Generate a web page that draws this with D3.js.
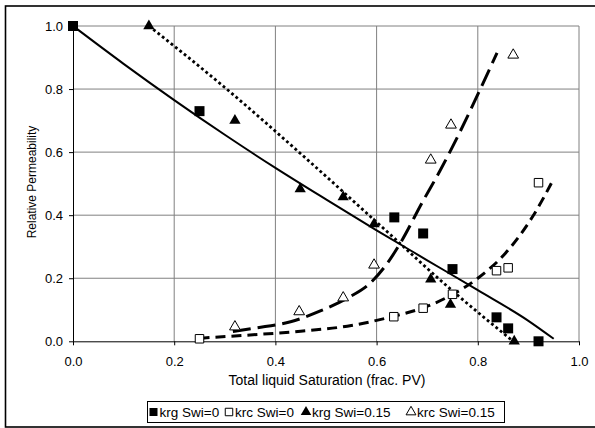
<!DOCTYPE html>
<html><head><meta charset="utf-8">
<script src="https://cdn.jsdelivr.net/npm/d3@7"></script>
<style>
html,body{margin:0;padding:0;background:#fff;}
text{font-family:"Liberation Sans",Arial,sans-serif;fill:#000;}
</style></head>
<body>
<svg id="chart" width="595" height="428"></svg>
<script>
// ---- data ----
const xTicks = [0.0, 0.2, 0.4, 0.6, 0.8, 1.0];
const yTicks = [0.0, 0.2, 0.4, 0.6, 0.8, 1.0];
const xTickLabels = ["0.0", "0.2", "0.4", "0.6", "0.8", "1.0"];
const yTickLabels = ["0.0", "0.2", "0.4", "0.6", "0.8", "1.0"];
const xTitle = "Total liquid Saturation (frac. PV)";
const yTitle = "Relative Permeability";
const seriesNames = ["krg Swi=0", "krc Swi=0", "krg Swi=0.15", "krc Swi=0.15"];

// measured points
const krgSwi0X  = [0.0, 0.25, 0.635, 0.692, 0.75, 0.837, 0.86, 0.92];
const krgSwi0Y  = [1.0, 0.73, 0.393, 0.342, 0.229, 0.076, 0.041, 0.0];
const krcSwi0X  = [0.25, 0.634, 0.692, 0.75, 0.837, 0.86, 0.92];
const krcSwi0Y  = [0.008, 0.078, 0.105, 0.149, 0.224, 0.233, 0.503];
const krgSwi15X = [0.15, 0.32, 0.449, 0.534, 0.595, 0.707, 0.746, 0.872];
const krgSwi15Y = [1.0, 0.70, 0.483, 0.458, 0.372, 0.197, 0.117, 0.0];
const krcSwi15X = [0.32, 0.447, 0.534, 0.595, 0.707, 0.747, 0.87];
const krcSwi15Y = [0.046, 0.094, 0.138, 0.242, 0.575, 0.686, 0.908];

// fitted curves
const fitKrgSwi0X  = [0.0, 0.1, 0.2, 0.3, 0.4, 0.5, 0.6, 0.7, 0.8, 0.9, 0.95];
const fitKrgSwi0Y  = [1.0, 0.88, 0.765, 0.655, 0.55, 0.45, 0.352, 0.257, 0.162, 0.065, 0.008];
const fitKrgSwi15X = [0.15, 0.3, 0.45, 0.6, 0.75, 0.87];
const fitKrgSwi15Y = [1.0, 0.805, 0.595, 0.378, 0.16, 0.0];
const fitKrcSwi15X = [0.316, 0.36, 0.43, 0.49, 0.54, 0.587, 0.62, 0.65, 0.69, 0.725, 0.765, 0.805, 0.838];
const fitKrcSwi15Y = [0.031, 0.042, 0.062, 0.097, 0.135, 0.184, 0.245, 0.32, 0.44, 0.54, 0.665, 0.80, 0.915];
const fitKrcSwi0X  = [0.25, 0.35, 0.45, 0.55, 0.63, 0.69, 0.74, 0.80, 0.855, 0.91, 0.95];
const fitKrcSwi0Y  = [0.01, 0.02, 0.032, 0.05, 0.078, 0.105, 0.14, 0.20, 0.28, 0.40, 0.515];

const zip = (xs, ys) => xs.map((x, i) => ({x, y: ys[i]}));

// ---- layout ----
const svg = d3.select("#chart");
const x = d3.scaleLinear().domain([0, 1]).range([73, 579]);
const y = d3.scaleLinear().domain([0, 1]).range([341.3, 26]);

// outer frame (right edge runs off the picture)
svg.append("rect").attr("x", 5.5).attr("y", 6).attr("width", 594).attr("height", 421)
  .attr("fill", "#fff").attr("stroke", "#000").attr("stroke-width", 1.6);

// grid
const grid = svg.append("g");
grid.selectAll("line.v").data(xTicks.slice(1)).join("line")
  .attr("x1", d => x(d)).attr("x2", d => x(d)).attr("y1", y(0)).attr("y2", y(1))
  .attr("stroke", "#808080").attr("stroke-width", 1);
grid.selectAll("line.h").data(yTicks.slice(1)).join("line")
  .attr("x1", x(0)).attr("x2", x(1)).attr("y1", d => y(d)).attr("y2", d => y(d))
  .attr("stroke", "#808080").attr("stroke-width", 1);

// axes
const fmtX = (d) => xTickLabels[xTicks.indexOf(d)];
const fmtY = (d) => yTickLabels[yTicks.indexOf(d)];
const gx = svg.append("g").attr("transform", `translate(0,${y(0)})`)
  .call(d3.axisBottom(x).tickValues(xTicks).tickFormat(fmtX).tickSize(4).tickPadding(11).tickSizeOuter(0));
const gy = svg.append("g").attr("transform", `translate(${x(0)},0)`)
  .call(d3.axisLeft(y).tickValues(yTicks).tickFormat(fmtY).tickSize(4).tickPadding(6).tickSizeOuter(0));
[gx, gy].forEach(g => {
  g.select(".domain").attr("stroke", "#000").attr("stroke-width", 1);
  g.selectAll(".tick line").attr("stroke", "#000");
  g.selectAll("text").style("font-family", '"Liberation Sans",Arial,sans-serif').style("font-size", "13px").attr("fill", "#000");
});

// titles
svg.append("text").attr("x", 327).attr("y", 385).attr("text-anchor", "middle")
  .style("font-size", "14px").text(xTitle);
svg.append("text").attr("transform", "translate(36,182) rotate(-90)").attr("text-anchor", "middle")
  .style("font-size", "12px").text(yTitle);

// fitted lines
const line = d3.line().x(d => x(d.x)).y(d => y(d.y)).curve(d3.curveMonotoneX);
const lines = svg.append("g").attr("fill", "none").attr("stroke", "#000");
lines.append("path").datum(zip(fitKrgSwi0X, fitKrgSwi0Y)).attr("d", line).attr("stroke-width", 2);
lines.append("path").datum(zip(fitKrgSwi15X, fitKrgSwi15Y)).attr("d", line)
  .attr("stroke-width", 2.8).attr("stroke-dasharray", "2.8,2.8");
lines.append("path").datum(zip(fitKrcSwi15X, fitKrcSwi15Y)).attr("d", line)
  .attr("stroke-width", 3).attr("stroke-dasharray", "18,7");
lines.append("path").datum(zip(fitKrcSwi0X, fitKrcSwi0Y)).attr("d", line)
  .attr("stroke-width", 3).attr("stroke-dasharray", "10,6");

// markers
const sq = d3.symbol().type(d3.symbolSquare);
const tri = d3.symbol().type(d3.symbolTriangle);
const marks = svg.append("g");
function drawPts(data, gen, size, filled) {
  marks.append("g").selectAll("path").data(data).join("path")
    .attr("transform", d => `translate(${x(d.x)},${y(d.y)})`)
    .attr("d", gen.size(size)())
    .attr("fill", filled ? "#000" : "#fff")
    .attr("stroke", "#000").attr("stroke-width", filled ? 0 : 1);
}
drawPts(zip(krcSwi0X, krcSwi0Y), sq, 72, false);
drawPts(zip(krcSwi15X, krcSwi15Y), tri, 50, false);
drawPts(zip(krgSwi0X, krgSwi0Y), sq, 100, true);
drawPts(zip(krgSwi15X, krgSwi15Y), tri, 55, true);

// legend
const leg = svg.append("g");
leg.append("rect").attr("x", 147.5).attr("y", 401.5).attr("width", 357).attr("height", 21)
  .attr("fill", "#fff").attr("stroke", "#000").attr("stroke-width", 1);
const legX = [153.5, 229, 306, 411];
const legTypes = [[sq, 64, true], [sq, 56, false], [tri, 48, true], [tri, 42, false]];
seriesNames.forEach((name, i) => {
  const [gen, size, filled] = legTypes[i];
  leg.append("path").attr("transform", `translate(${legX[i]},412)`)
    .attr("d", gen.size(size)()).attr("fill", filled ? "#000" : "#fff")
    .attr("stroke", "#000").attr("stroke-width", filled ? 0 : 1);
  leg.append("text").attr("x", legX[i] + 6).attr("y", 416.5).style("font-size", "13.5px").text(name);
});
</script>
</body></html>
